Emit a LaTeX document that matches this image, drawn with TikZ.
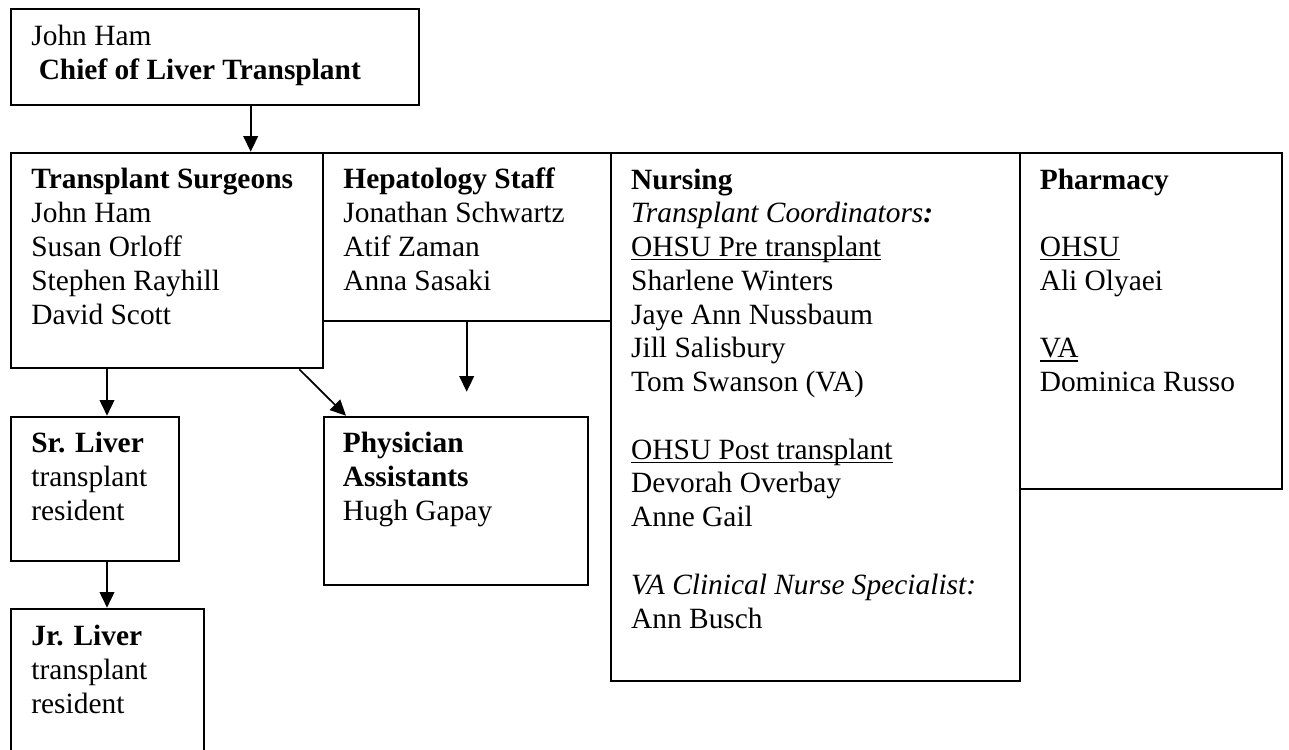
\documentclass[tikz,border=0pt]{standalone}
\usepackage{fontspec}
\setmainfont{Liberation Serif}
\usetikzlibrary{arrows.meta}
\newcommand\ulx[1]{\leavevmode\setbox0=\hbox{#1}\rlap{\rule[-1.9pt]{\wd0}{0.7pt}}\box0}
\tikzset{
  box/.style={draw, line width=1pt, inner sep=0pt, anchor=north west},
  txt/.style={inner sep=0pt, anchor=base west, align=left, font=\fontsize{14.7}{16.88}\selectfont},
  arr/.style={line width=0.85pt, -{Triangle[length=7.8pt, width=7.3pt]}}
}
\begin{document}
\begin{tikzpicture}[x=0.5pt, y=-0.5pt]
\useasboundingbox (0,0) rectangle (1289,749);
% boxes
\node[box, minimum width=204.15pt, minimum height=48.3pt] (chief) at (10,7.7) {};
\node[box, minimum width=155.95pt, minimum height=107.8pt] (ts) at (10.4,151.7) {};
\node[box, minimum width=143.85pt, minimum height=84.15pt] (hep) at (322.3,151.7) {};
\node[box, minimum width=204.25pt, minimum height=264.15pt] (nur) at (610,151.7) {};
\node[box, minimum width=131.1pt, minimum height=168.3pt] (pha) at (1018.5,151.7) {};
\node[box, minimum width=83.8pt, minimum height=72.15pt] (sr) at (10.4,415.7) {};
\node[box, minimum width=132pt, minimum height=84.15pt] (pa) at (322.5,415.7) {};
\node[box, minimum width=96.05pt, minimum height=72.5pt] (jr) at (10.4,607.7) {};
% texts (anchor = baseline of the last line)
\node[txt] (tchief) at (31,79.5) {John Ham\\\hspace{0.25em}\textbf{Chief of Liver Transplant}};
\node[txt] (tts) at (31,324) {\textbf{Transplant Surgeons}\\John Ham\\Susan Orloff\\Stephen Rayhill\\David Scott};
\node[txt] (thep) at (343,290) {\textbf{Hepatology Staff}\\Jonathan Schwartz\\Atif Zaman\\Anna Sasaki};
\node[txt] (tnur) at (630.8,628) {\textbf{Nursing}\\\textit{Transplant Coordinators\textbf{:}}\\\ulx{OHSU Pre transplant}\\Sharlene Winters\\Jaye Ann Nussbaum\\Jill Salisbury\\Tom Swanson (VA)\\\mbox{}\\\ulx{OHSU Post transplant}\\Devorah Overbay\\Anne Gail\\\mbox{}\\\textit{VA Clinical Nurse Specialist:}\\Ann Busch};
\node[txt] (tpha) at (1039.4,391.6) {\textbf{Pharmacy}\\\mbox{}\\\ulx{OHSU}\\Ali Olyaei\\\mbox{}\\\ulx{VA}\\Dominica Russo};
\node[txt] (tsr) at (31,520.5) {\textbf{Sr. Liver}\\transplant\\resident};
\node[txt] (tpa) at (342.4,520.5) {\textbf{Physician}\\\textbf{Assistants}\\Hugh Gapay};
\node[txt] (tjr) at (31,713) {\textbf{Jr. Liver}\\transplant\\resident};
% connectors
\coordinate (xa) at (250.7,0);
\coordinate (xb) at (107,0);
\coordinate (xd) at (299.3,0);
\coordinate (xe) at (346,0);
\coordinate (hend) at (466.7,391.7);
\draw[arr] (chief.south -| xa) -- (ts.north -| xa);
\draw[arr] (ts.south -| xb) -- (sr.north -| xb);
\draw[arr] (sr.south -| xb) -- (jr.north -| xb);
\draw[arr] (ts.south -| xd) -- (pa.north -| xe);
\draw[arr] (hep.south -| hend) -- (hend);
\end{tikzpicture}
\end{document}
